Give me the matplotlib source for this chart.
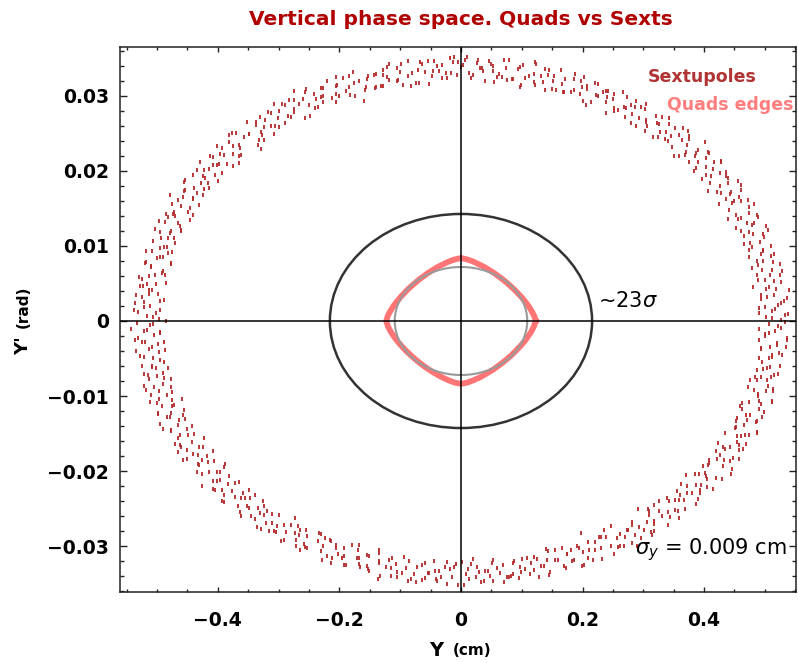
import numpy as np
import matplotlib
matplotlib.use("Agg")
import matplotlib.pyplot as plt
from matplotlib.patches import Ellipse

# Sextupoles: tracked particles, betatron phase (deg) and amplitude (% of nominal)
# first batch of turns
sext_phase_a = [
    0.2, 0.9, 1.5, 2.3, 3.1, 3.6, 4.4, 5.2, 5.9, 6.7, 7.5, 8.3,
    9.5, 10.2, 10.9, 11.6, 12.4, 13.1, 13.8, 14.5, 15.3, 16.0, 16.8, 17.6,
    18.1, 18.7, 19.7, 20.1, 20.9, 21.8, 22.6, 23.0, 24.0, 24.5, 25.3, 26.1,
    27.2, 27.9, 28.5, 29.3, 30.1, 30.6, 31.4, 32.2, 32.9, 33.7, 34.5, 35.3,
    36.5, 37.2, 37.9, 38.6, 39.4, 40.1, 40.8, 41.5, 42.3, 43.0, 43.8, 44.6,
    45.1, 45.7, 46.7, 47.1, 47.9, 48.8, 49.6, 50.0, 51.0, 51.5, 52.3, 53.1,
    54.2, 54.9, 55.5, 56.3, 57.1, 57.6, 58.4, 59.2, 59.9, 60.7, 61.5, 62.3,
    63.5, 64.2, 64.9, 65.6, 66.4, 67.1, 67.8, 68.5, 69.3, 70.0, 70.8, 71.6,
    72.1, 72.7, 73.7, 74.1, 74.9, 75.8, 76.6, 77.0, 78.0, 78.5, 79.3, 80.1,
    81.2, 81.9, 82.5, 83.3, 84.1, 84.6, 85.4, 86.2, 86.9, 87.7, 88.5, 89.3,
    90.5, 91.2, 91.9, 92.6, 93.4, 94.1, 94.8, 95.5, 96.3, 97.0, 97.8, 98.6,
    99.1, 99.7, 100.7, 101.1, 101.9, 102.8, 103.6, 104.0, 105.0, 105.5, 106.3, 107.1,
    108.2, 108.9, 109.5, 110.3, 111.1, 111.6, 112.4, 113.2, 113.9, 114.7, 115.5, 116.3,
    117.5, 118.2, 118.9, 119.6, 120.4, 121.1, 121.8, 122.5, 123.3, 124.0, 124.8, 125.6,
    126.1, 126.7, 127.7, 128.1, 128.9, 129.8, 130.6, 131.0, 132.0, 132.5, 133.3, 134.1,
    135.2, 135.9, 136.5, 137.3, 138.1, 138.6, 139.4, 140.2, 140.9, 141.7, 142.5, 143.3,
    144.5, 145.2, 145.9, 146.6, 147.4, 148.1, 148.8, 149.5, 150.3, 151.0, 151.8, 152.6,
    153.1, 153.7, 154.7, 155.1, 155.9, 156.8, 157.6, 158.0, 159.0, 159.5, 160.3, 161.1,
    162.2, 162.9, 163.5, 164.3, 165.1, 165.6, 166.4, 167.2, 167.9, 168.7, 169.5, 170.3,
    171.5, 172.2, 172.9, 173.6, 174.4, 175.1, 175.8, 176.5, 177.3, 178.0, 178.8, 179.6,
    180.1, 180.7, 181.7, 182.1, 182.9, 183.8, 184.6, 185.0, 186.0, 186.5, 187.3, 188.1,
    189.2, 189.9, 190.5, 191.3, 192.1, 192.6, 193.4, 194.2, 194.9, 195.7, 196.5, 197.3,
    198.5, 199.2, 199.9, 200.6, 201.4, 202.1, 202.8, 203.5, 204.3, 205.0, 205.8, 206.6,
    207.1, 207.7, 208.7, 209.1, 209.9, 210.8, 211.6, 212.0, 213.0, 213.5, 214.3, 215.1,
    216.2, 216.9, 217.5, 218.3, 219.1, 219.6, 220.4, 221.2, 221.9, 222.7, 223.5, 224.3,
    225.5, 226.2, 226.9, 227.6, 228.4, 229.1, 229.8, 230.5, 231.3, 232.0, 232.8, 233.6,
    234.1, 234.7, 235.7, 236.1, 236.9, 237.8, 238.6, 239.0, 240.0, 240.5, 241.3, 242.1,
    243.2, 243.9, 244.5, 245.3, 246.1, 246.6, 247.4, 248.2, 248.9, 249.7, 250.5, 251.3,
    252.5, 253.2, 253.9, 254.6, 255.4, 256.1, 256.8, 257.5, 258.3, 259.0, 259.8, 260.6,
    261.1, 261.7, 262.7, 263.1, 263.9, 264.8, 265.6, 266.0, 267.0, 267.5, 268.3, 269.1,
    270.2, 270.9, 271.5, 272.3, 273.1, 273.6, 274.4, 275.2, 275.9, 276.7, 277.5, 278.3,
    279.5, 280.2, 280.9, 281.6, 282.4, 283.1, 283.8, 284.5, 285.3, 286.0, 286.8, 287.6,
    288.1, 288.7, 289.7, 290.1, 290.9, 291.8, 292.6, 293.0, 294.0, 294.5, 295.3, 296.1,
    297.2, 297.9, 298.5, 299.3, 300.1, 300.6, 301.4, 302.2, 302.9, 303.7, 304.5, 305.3,
    306.5, 307.2, 307.9, 308.6, 309.4, 310.1, 310.8, 311.5, 312.3, 313.0, 313.8, 314.6,
    315.1, 315.7, 316.7, 317.1, 317.9, 318.8, 319.6, 320.0, 321.0, 321.5, 322.3, 323.1,
    324.2, 324.9, 325.5, 326.3, 327.1, 327.6, 328.4, 329.2, 329.9, 330.7, 331.5, 332.3,
    333.5, 334.2, 334.9, 335.6, 336.4, 337.1, 337.8, 338.5, 339.3, 340.0, 340.8, 341.6,
    342.1, 342.7, 343.7, 344.1, 344.9, 345.8, 346.6, 347.0, 348.0, 348.5, 349.3, 350.1,
    351.2, 351.9, 352.5, 353.3, 354.1, 354.6, 355.4, 356.2, 356.9, 357.7, 358.5, 359.3,
]
sext_amp_a = [
    102, 97, 104, 99, 95, 101, 103, 96, 100, 105, 98, 94,
    98, 103, 96, 101, 104, 97, 99, 102, 95, 100, 103, 97,
    100, 95, 102, 104, 98, 96, 101, 99, 103, 97, 94, 102,
    96, 101, 99, 94, 103, 100, 97, 104, 98, 102, 96, 101,
    97, 104, 99, 95, 101, 103, 96, 100, 105, 98, 94, 102,
    103, 96, 101, 104, 97, 99, 102, 95, 100, 103, 97, 98,
    95, 102, 104, 98, 96, 101, 99, 103, 97, 94, 102, 100,
    101, 99, 94, 103, 100, 97, 104, 98, 102, 96, 101, 96,
    104, 99, 95, 101, 103, 96, 100, 105, 98, 94, 102, 97,
    96, 101, 104, 97, 99, 102, 95, 100, 103, 97, 98, 103,
    102, 104, 98, 96, 101, 99, 103, 97, 94, 102, 100, 95,
    99, 94, 103, 100, 97, 104, 98, 102, 96, 101, 96, 101,
    97, 100, 92, 103, 99, 96, 104, 101, 98, 95, 102, 99,
    101, 96, 103, 98, 105, 100, 94, 99, 102, 97, 104, 96,
    99, 103, 97, 101, 95, 102, 98, 104, 96, 100, 93, 103,
    104, 98, 100, 96, 102, 94, 101, 97, 103, 99, 96, 100,
    95, 100, 103, 99, 97, 104, 96, 102, 98, 101, 105, 97,
    100, 97, 101, 95, 103, 98, 102, 96, 99, 104, 97, 101,
    103, 99, 96, 102, 98, 100, 95, 103, 101, 97, 99, 104,
    98, 102, 100, 97, 104, 95, 101, 99, 96, 103, 100, 96,
    94, 98, 105, 100, 96, 103, 101, 95, 99, 104, 97, 102,
    97, 103, 100, 95, 102, 99, 97, 104, 101, 96, 103, 98,
    102, 94, 97, 103, 99, 101, 96, 98, 104, 102, 95, 100,
    101, 96, 102, 98, 104, 97, 100, 103, 94, 99, 101, 96,
    102, 94, 98, 105, 100, 96, 103, 101, 95, 99, 104, 97,
    98, 97, 103, 100, 95, 102, 99, 97, 104, 101, 96, 103,
    100, 102, 94, 97, 103, 99, 101, 96, 98, 104, 102, 95,
    96, 101, 96, 102, 98, 104, 97, 100, 103, 94, 99, 101,
    97, 102, 94, 98, 105, 100, 96, 103, 101, 95, 99, 104,
    103, 98, 97, 103, 100, 95, 102, 99, 97, 104, 101, 96,
    95, 100, 102, 94, 97, 103, 99, 101, 96, 98, 104, 102,
    101, 96, 101, 96, 102, 98, 104, 97, 100, 103, 94, 99,
    99, 102, 95, 98, 101, 104, 96, 99, 103, 92, 100, 97,
    96, 104, 97, 102, 99, 94, 100, 105, 98, 103, 96, 101,
    103, 93, 100, 96, 104, 98, 102, 95, 101, 97, 103, 99,
    100, 96, 99, 103, 97, 101, 94, 102, 96, 100, 98, 104,
    97, 105, 101, 98, 102, 96, 104, 97, 99, 103, 100, 95,
    101, 97, 104, 99, 96, 102, 98, 103, 95, 101, 97, 100,
    104, 99, 97, 101, 103, 95, 100, 98, 102, 96, 99, 103,
    96, 100, 103, 96, 99, 101, 95, 104, 97, 100, 102, 98,
]
# second batch of turns
sext_phase_b = [
    0.6, 1.3, 1.9, 2.7, 3.3, 4.0, 4.9, 5.6, 6.2, 7.1, 7.9, 8.7,
    9.0, 9.8, 10.4, 11.0, 11.8, 12.7, 13.3, 14.1, 14.8, 15.6, 16.2, 17.0,
    18.4, 19.0, 20.2, 20.5, 21.2, 22.2, 22.7, 23.4, 24.4, 24.9, 25.6, 26.4,
    27.6, 28.3, 28.9, 29.7, 30.3, 31.0, 31.9, 32.6, 33.2, 34.1, 34.9, 35.7,
    36.0, 36.8, 37.4, 38.0, 38.8, 39.7, 40.3, 41.1, 41.8, 42.6, 43.2, 44.0,
    45.4, 46.0, 47.2, 47.5, 48.2, 49.2, 49.7, 50.4, 51.4, 51.9, 52.6, 53.4,
    54.6, 55.3, 55.9, 56.7, 57.3, 58.0, 58.9, 59.6, 60.2, 61.1, 61.9, 62.7,
    63.0, 63.8, 64.4, 65.0, 65.8, 66.7, 67.3, 68.1, 68.8, 69.6, 70.2, 71.0,
    72.4, 73.0, 74.2, 74.5, 75.2, 76.2, 76.7, 77.4, 78.4, 78.9, 79.6, 80.4,
    81.6, 82.3, 82.9, 83.7, 84.3, 85.0, 85.9, 86.6, 87.2, 88.1, 88.9, 89.7,
    90.0, 90.8, 91.4, 92.0, 92.8, 93.7, 94.3, 95.1, 95.8, 96.6, 97.2, 98.0,
    99.4, 100.0, 101.2, 101.5, 102.2, 103.2, 103.7, 104.4, 105.4, 105.9, 106.6, 107.4,
    108.6, 109.3, 109.9, 110.7, 111.3, 112.0, 112.9, 113.6, 114.2, 115.1, 115.9, 116.7,
    117.0, 117.8, 118.4, 119.0, 119.8, 120.7, 121.3, 122.1, 122.8, 123.6, 124.2, 125.0,
    126.4, 127.0, 128.2, 128.5, 129.2, 130.2, 130.7, 131.4, 132.4, 132.9, 133.6, 134.4,
    135.6, 136.3, 136.9, 137.7, 138.3, 139.0, 139.9, 140.6, 141.2, 142.1, 142.9, 143.7,
    144.0, 144.8, 145.4, 146.0, 146.8, 147.7, 148.3, 149.1, 149.8, 150.6, 151.2, 152.0,
    153.4, 154.0, 155.2, 155.5, 156.2, 157.2, 157.7, 158.4, 159.4, 159.9, 160.6, 161.4,
    162.6, 163.3, 163.9, 164.7, 165.3, 166.0, 166.9, 167.6, 168.2, 169.1, 169.9, 170.7,
    171.0, 171.8, 172.4, 173.0, 173.8, 174.7, 175.3, 176.1, 176.8, 177.6, 178.2, 179.0,
    180.4, 181.0, 182.2, 182.5, 183.2, 184.2, 184.7, 185.4, 186.4, 186.9, 187.6, 188.4,
    189.6, 190.3, 190.9, 191.7, 192.3, 193.0, 193.9, 194.6, 195.2, 196.1, 196.9, 197.7,
    198.0, 198.8, 199.4, 200.0, 200.8, 201.7, 202.3, 203.1, 203.8, 204.6, 205.2, 206.0,
    207.4, 208.0, 209.2, 209.5, 210.2, 211.2, 211.7, 212.4, 213.4, 213.9, 214.6, 215.4,
    216.6, 217.3, 217.9, 218.7, 219.3, 220.0, 220.9, 221.6, 222.2, 223.1, 223.9, 224.7,
    225.0, 225.8, 226.4, 227.0, 227.8, 228.7, 229.3, 230.1, 230.8, 231.6, 232.2, 233.0,
    234.4, 235.0, 236.2, 236.5, 237.2, 238.2, 238.7, 239.4, 240.4, 240.9, 241.6, 242.4,
    243.6, 244.3, 244.9, 245.7, 246.3, 247.0, 247.9, 248.6, 249.2, 250.1, 250.9, 251.7,
    252.0, 252.8, 253.4, 254.0, 254.8, 255.7, 256.3, 257.1, 257.8, 258.6, 259.2, 260.0,
    261.4, 262.0, 263.2, 263.5, 264.2, 265.2, 265.7, 266.4, 267.4, 267.9, 268.6, 269.4,
    270.6, 271.3, 271.9, 272.7, 273.3, 274.0, 274.9, 275.6, 276.2, 277.1, 277.9, 278.7,
    279.0, 279.8, 280.4, 281.0, 281.8, 282.7, 283.3, 284.1, 284.8, 285.6, 286.2, 287.0,
    288.4, 289.0, 290.2, 290.5, 291.2, 292.2, 292.7, 293.4, 294.4, 294.9, 295.6, 296.4,
    297.6, 298.3, 298.9, 299.7, 300.3, 301.0, 301.9, 302.6, 303.2, 304.1, 304.9, 305.7,
    306.0, 306.8, 307.4, 308.0, 308.8, 309.7, 310.3, 311.1, 311.8, 312.6, 313.2, 314.0,
    315.4, 316.0, 317.2, 317.5, 318.2, 319.2, 319.7, 320.4, 321.4, 321.9, 322.6, 323.4,
    324.6, 325.3, 325.9, 326.7, 327.3, 328.0, 328.9, 329.6, 330.2, 331.1, 331.9, 332.7,
    333.0, 333.8, 334.4, 335.0, 335.8, 336.7, 337.3, 338.1, 338.8, 339.6, 340.2, 341.0,
    342.4, 343.0, 344.2, 344.5, 345.2, 346.2, 346.7, 347.4, 348.4, 348.9, 349.6, 350.4,
    351.6, 352.3, 352.9, 353.7, 354.3, 355.0, 355.9, 356.6, 357.2, 358.1, 358.9, 359.7,
]
sext_amp_b = [
    99, 103, 95, 100, 97, 102, 104, 98, 96, 101, 99, 103,
    101, 96, 100, 104, 98, 95, 102, 97, 103, 99, 100, 96,
    97, 102, 99, 96, 104, 100, 95, 103, 98, 101, 97, 104,
    103, 98, 101, 97, 99, 104, 96, 101, 94, 102, 103, 98,
    95, 100, 104, 102, 96, 98, 103, 99, 101, 97, 95, 100,
    100, 104, 97, 99, 102, 96, 98, 104, 100, 95, 102, 99,
    98, 95, 102, 101, 103, 99, 97, 96, 104, 100, 98, 102,
    102, 99, 96, 103, 95, 101, 100, 102, 97, 104, 96, 99,
    96, 101, 103, 98, 100, 97, 104, 99, 95, 103, 101, 97,
    104, 97, 98, 95, 101, 103, 99, 100, 102, 96, 104, 101,
    100, 97, 102, 104, 98, 96, 101, 99, 103, 99, 103, 95,
    104, 98, 95, 102, 97, 103, 99, 100, 96, 101, 96, 100,
    96, 104, 100, 95, 103, 98, 101, 97, 104, 97, 102, 99,
    97, 99, 104, 96, 101, 94, 102, 103, 98, 103, 98, 101,
    102, 96, 98, 103, 99, 101, 97, 95, 100, 95, 100, 104,
    99, 102, 96, 98, 104, 100, 95, 102, 99, 100, 104, 97,
    101, 103, 99, 97, 96, 104, 100, 98, 102, 98, 95, 102,
    103, 95, 101, 100, 102, 97, 104, 96, 99, 102, 99, 96,
    98, 100, 97, 104, 99, 95, 103, 101, 97, 96, 101, 103,
    95, 101, 103, 99, 100, 102, 96, 104, 101, 104, 97, 98,
    103, 99, 101, 96, 98, 104, 102, 97, 100, 95, 103, 99,
    96, 100, 99, 103, 97, 102, 95, 98, 104, 100, 96, 101,
    104, 97, 101, 98, 103, 95, 100, 104, 96, 99, 102, 97,
    98, 103, 102, 94, 101, 96, 104, 99, 97, 101, 98, 103,
    100, 95, 97, 101, 99, 103, 98, 96, 102, 104, 100, 95,
    99, 102, 95, 100, 104, 98, 96, 102, 99, 97, 104, 100,
    102, 98, 100, 104, 96, 97, 99, 103, 101, 102, 95, 98,
    99, 96, 104, 97, 102, 100, 101, 95, 103, 96, 99, 102,
    97, 101, 103, 95, 99, 104, 97, 100, 98, 103, 101, 96,
    101, 104, 96, 102, 100, 99, 103, 101, 95, 98, 97, 104,
    104, 98, 96, 101, 99, 103, 99, 103, 95, 100, 97, 102,
    102, 97, 103, 99, 100, 96, 101, 96, 100, 104, 98, 95,
    95, 103, 98, 101, 97, 104, 97, 102, 99, 96, 104, 100,
    96, 101, 94, 102, 103, 98, 103, 98, 101, 97, 99, 104,
    103, 99, 101, 97, 95, 100, 95, 100, 104, 102, 96, 98,
    98, 104, 100, 95, 102, 99, 100, 104, 97, 99, 102, 96,
    97, 96, 104, 100, 98, 102, 98, 95, 102, 101, 103, 99,
    100, 102, 97, 104, 96, 99, 102, 99, 96, 103, 95, 101,
    104, 99, 95, 103, 101, 97, 96, 101, 103, 98, 100, 97,
    99, 100, 102, 96, 104, 101, 104, 97, 98, 95, 101, 103,
]
sext_y_max = 0.517     # cm
sext_yp_max = 0.0338   # rad

# Quad edges: invariant curve, relative amplitude vs phase
quad_phase_deg = [
    0, 5, 10, 15, 20, 25, 30, 35, 40, 45, 50, 55, 60, 65, 70, 75, 80, 85,
    90, 95, 100, 105, 110, 115, 120, 125, 130, 135, 140, 145, 150, 155, 160, 165, 170, 175,
    180, 185, 190, 195, 200, 205, 210, 215, 220, 225, 230, 235, 240, 245, 250, 255, 260, 265,
    270, 275, 280, 285, 290, 295, 300, 305, 310, 315, 320, 325, 330, 335, 340, 345, 350, 355,
]
quad_amp = [
    1.000, 0.982, 0.955, 0.933, 0.910, 0.894, 0.879, 0.871, 0.864,
    0.863, 0.865, 0.869, 0.881, 0.892, 0.912, 0.931, 0.957, 0.980,
    1.000, 0.980, 0.957, 0.931, 0.912, 0.892, 0.881, 0.869, 0.865,
    0.861, 0.864, 0.871, 0.879, 0.894, 0.910, 0.933, 0.955, 0.982,
    1.000, 0.981, 0.956, 0.932, 0.911, 0.893, 0.880, 0.870, 0.863,
    0.862, 0.864, 0.870, 0.880, 0.893, 0.911, 0.932, 0.956, 0.981,
    0.998, 0.981, 0.955, 0.933, 0.911, 0.892, 0.881, 0.870, 0.864,
    0.862, 0.865, 0.870, 0.879, 0.893, 0.912, 0.931, 0.956, 0.980,
]
quad_y_max = 0.123
quad_yp_max = 0.0084

# linear (gray) and ~23 sigma ellipses: half-axes
lin_y_max, lin_yp_max = 0.109, 0.0072
sig_y_max, sig_yp_max = 0.2157, 0.01427

x_ticks = [-0.4, -0.2, 0, 0.2, 0.4]
x_tick_labels = ["\u22120.4", "\u22120.2", "0", "0.2", "0.4"]
y_ticks = [-0.03, -0.02, -0.01, 0, 0.01, 0.02, 0.03]
y_tick_labels = ["\u22120.03", "\u22120.02", "\u22120.01", "0", "0.01", "0.02", "0.03"]


def main():
    fig = plt.figure(figsize=(7.98, 6.63), dpi=100)
    ax = fig.add_axes([0.1504, 0.1071, 0.8477, 0.8220])

    ph = np.deg2rad(sext_phase_a + sext_phase_b)
    amp = np.array(sext_amp_a + sext_amp_b) / 100.0
    ax.plot(sext_y_max * amp * np.cos(ph), sext_yp_max * amp * np.sin(ph),
            ls="none", marker="|", ms=2.4, mew=1.3, color="#b42828", zorder=2)

    ax.add_patch(Ellipse((0, 0), 2 * sig_y_max, 2 * sig_yp_max, fill=False,
                         ec="#333333", lw=1.8, zorder=3))

    qph = np.deg2rad(quad_phase_deg + [360])
    qa = np.array(quad_amp + quad_amp[:1])
    ax.plot(quad_y_max * qa * np.cos(qph), quad_yp_max * qa * np.sin(qph),
            color="#ff7474", lw=4.2, solid_joinstyle="round", zorder=4)

    ax.add_patch(Ellipse((0, 0), 2 * lin_y_max, 2 * lin_yp_max, fill=False,
                         ec="#9a9a9a", lw=1.5, zorder=5))

    ax.axhline(0, color="black", lw=1.1, zorder=6)
    ax.axvline(0, color="black", lw=1.1, zorder=6)

    ax.set_xlim(-0.561, 0.552)
    ax.set_ylim(-0.03613, 0.03653)
    ax.set_xticks(x_ticks)
    ax.set_xticklabels(x_tick_labels)
    ax.set_yticks(y_ticks)
    ax.set_yticklabels(y_tick_labels)
    ax.set_xticks(np.arange(-0.55, 0.551, 0.05), minor=True)
    ax.set_yticks(np.arange(-0.036, 0.0365, 0.002), minor=True)
    ax.tick_params(which="both", direction="in", top=True, right=True,
                   color="#222222", width=1.0)
    ax.tick_params(axis="x", which="major", length=3.8, pad=14)
    ax.tick_params(axis="x", which="minor", length=2.2)
    ax.tick_params(axis="y", which="major", length=5.0, pad=8)
    ax.tick_params(axis="y", which="minor", length=3.2)
    for lab in ax.get_xticklabels() + ax.get_yticklabels():
        lab.set_fontsize(13.5)
        lab.set_fontweight("bold")
    for sp in ax.spines.values():
        sp.set_linewidth(1.1)
        sp.set_color("#222222")

    ax.text(0.2255, 0.0026, "~23$\\sigma$", fontsize=15, va="center", ha="left")
    ax.text(0.2864, -0.0305, "$\\sigma_y$ = 0.009 cm", fontsize=15,
            va="center", ha="left")

    ax.text(0.7796, 0.945, "Sextupoles", transform=ax.transAxes, fontsize=12.5,
            fontweight="bold", color="#b03434", va="center", ha="left")
    ax.text(0.809, 0.8936, "Quads edges", transform=ax.transAxes, fontsize=12.5,
            fontweight="bold", color="#ff7f7f", va="center", ha="left",
            clip_on=False)

    fig.suptitle("Vertical phase space. Quads vs Sexts", x=461 / 798, y=0.970,
                 va="center", fontsize=14.5, fontweight="bold", color="#b00000")

    fig.text(436 / 798, 0.0196, "Y", fontsize=14, fontweight="bold",
             ha="center", va="center")
    fig.text(472 / 798, 0.0196, "(cm)", fontsize=11, fontweight="bold",
             ha="center", va="center")
    fig.text(0.0288, 0.478, "Y'", fontsize=13, fontweight="bold",
             rotation=90, ha="center", va="center")
    fig.text(0.0288, 0.537, "(rad)", fontsize=11, fontweight="bold",
             rotation=90, ha="center", va="center")

    fig.savefig("out.png", dpi=100)


if __name__ == "__main__":
    main()
